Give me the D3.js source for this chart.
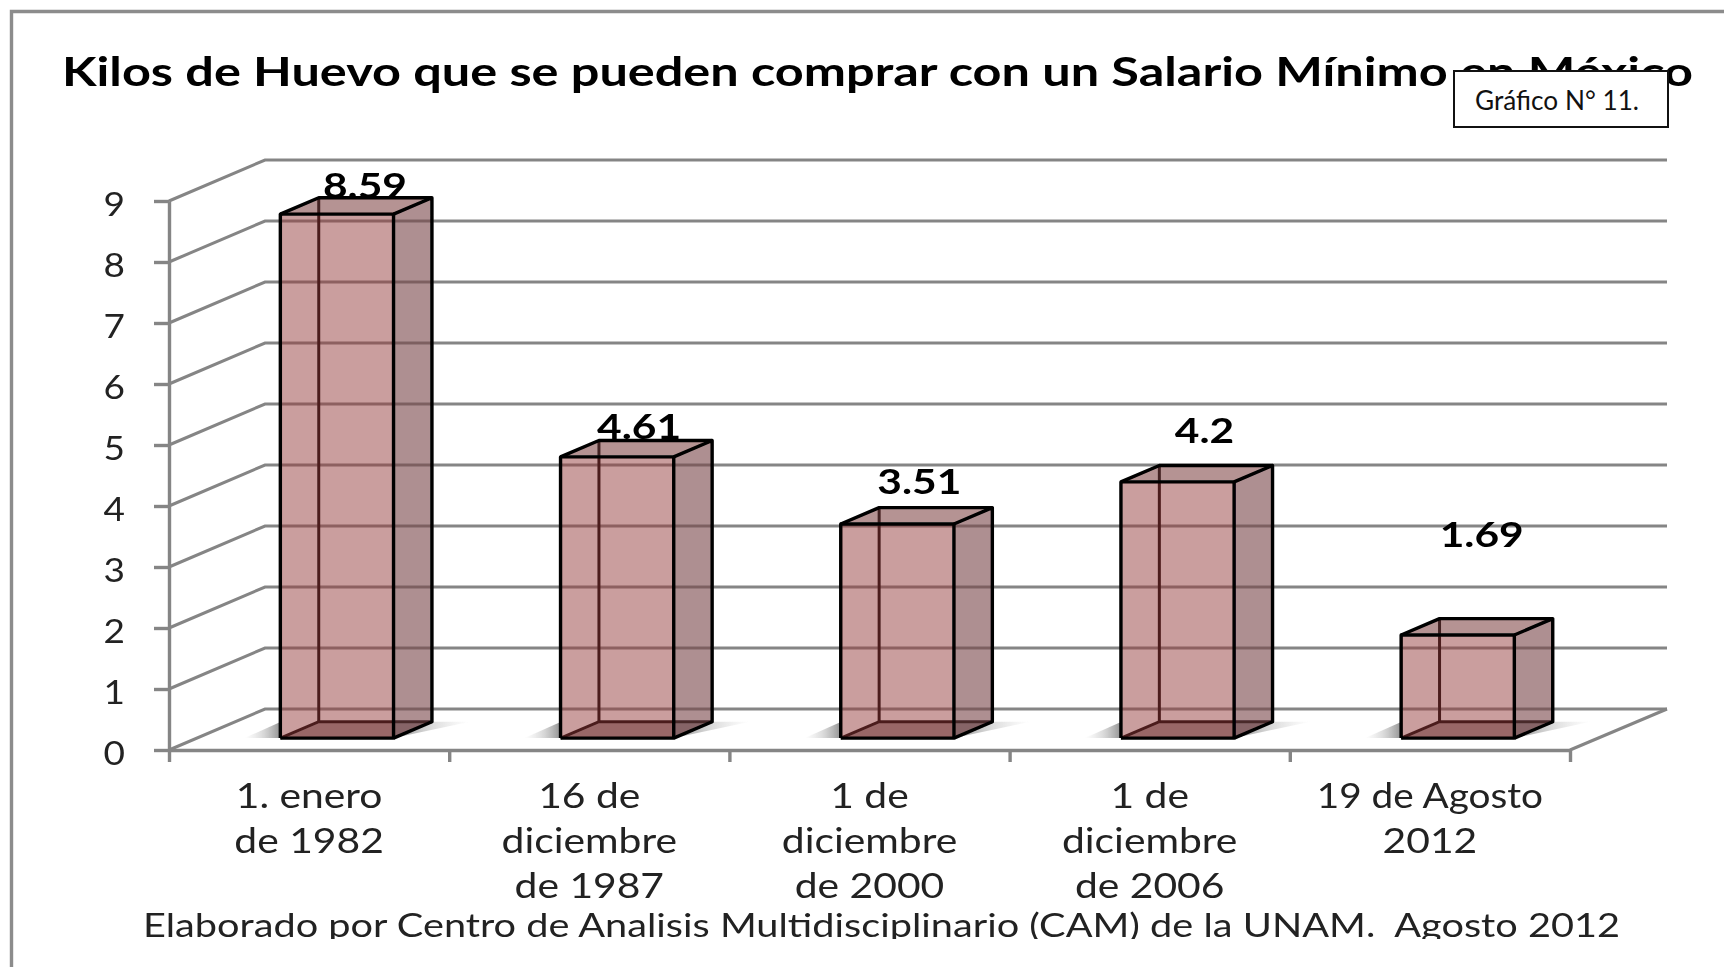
<!DOCTYPE html>
<html><head><meta charset="utf-8">
<script src="https://cdn.jsdelivr.net/npm/d3@7/dist/d3.min.js"></script>
<style>html,body{margin:0;padding:0;background:#fff;overflow:hidden}svg{display:block}</style>
</head><body><svg id="c" width="1724" height="967"></svg>
<script>
const titleText = "Kilos de Huevo que se pueden comprar con un Salario Mínimo en México";
const footerText = "Elaborado por Centro de Analisis Multidisciplinario (CAM) de la UNAM.  Agosto 2012";
const boxText = "Gráfico N° 11.";
const categories = ["1. enero de 1982","16 de diciembre de 1987","1 de diciembre de 2000","1 de diciembre de 2006","19 de Agosto 2012"];
const categoryLines = [["1. enero","de 1982"],["16 de","diciembre","de 1987"],["1 de","diciembre","de 2000"],["1 de","diciembre","de 2006"],["19 de Agosto","2012"]];
const values = [8.59,4.61,3.51,4.2,1.69];
const valueLabels = ["8.59","4.61","3.51","4.2","1.69"];
const yTicks = [0,1,2,3,4,5,6,7,8,9];

const FONT = "Lato, Carlito, 'Noto Sans', sans-serif";
const svg = d3.select("#c");
const defs = svg.append("defs");
const grad = (id, x1, x2) => { const g = defs.append("linearGradient").attr("id", id).attr("x1", x1).attr("x2", x2).attr("y1", 0).attr("y2", 0);
  g.append("stop").attr("offset", 0).attr("stop-color", "#777").attr("stop-opacity", .8);
  g.append("stop").attr("offset", .45).attr("stop-color", "#999").attr("stop-opacity", .4);
  g.append("stop").attr("offset", 1).attr("stop-color", "#bbb").attr("stop-opacity", 0); };
grad("shR", 0, 1); grad("shL", 1, 0);
defs.append("clipPath").attr("id", "footClip").append("rect").attr("x", 0).attr("y", 900).attr("width", 1724).attr("height", 39);
defs.append("filter").attr("id", "soft").attr("x", 0).attr("y", 0).attr("filterUnits", "userSpaceOnUse")
  .attr("width", 1724).attr("height", 967).append("feGaussianBlur").attr("stdDeviation", .7);

const root = svg.append("g").attr("filter", "url(#soft)");
const stretch = (sel, k) => sel.each(function(){ this.setAttribute("lengthAdjust","spacingAndGlyphs"); this.setAttribute("textLength", this.getComputedTextLength()*k); });

// scales
const y = d3.scaleLinear().domain([0,9]).range([750,201]);
const x = d3.scaleBand().domain(categories).range([169,1570]).paddingInner(.596).paddingOuter(.298);
const DX = 96, DY = 41;               // full floor depth
const T0 = .29, T1 = .69;             // bar position inside the depth
const px = (xv, t) => xv + DX * t;
const py = (v, t) => y(v) - DY * t;
const P = a => a.map(d => d.join(",")).join(" ");
const GRID = "#858585", EDGE = "#000";

// frame
root.append("path").attr("d", d3.line()([[11.5,967],[11.5,11.5],[1724,11.5]])).attr("fill","none").attr("stroke","#8c8c8c").attr("stroke-width",3.4);

// title
root.append("text").attr("x",62).attr("y",86).attr("font-family",FONT).attr("font-weight",700).attr("font-size",40).attr("fill","#000")
  .attr("textLength",1631).attr("lengthAdjust","spacingAndGlyphs").text(titleText);

// gridlines and side wall
root.append("g").selectAll("path").data(yTicks).join("path")
  .attr("d", d => d3.line()([[x.range()[0],y(d)],[px(x.range()[0],1),py(d,1)],[px(x.range()[1],1)+1,py(d,1)]]))
  .attr("fill","none").attr("stroke",GRID).attr("stroke-width",3);
root.append("path").attr("d", d3.line()([[x.range()[1],y(0)],[px(x.range()[1],1)+1,py(0,1)]])).attr("fill","none").attr("stroke",GRID).attr("stroke-width",3);

// axes
const ya = d3.axisLeft(y).tickValues(yTicks).tickSize(15).tickPadding(29).tickSizeOuter(0);
const yg = root.append("g").attr("transform",`translate(${x.range()[0]},0)`).call(ya);
yg.selectAll("line,path").attr("stroke",GRID).attr("stroke-width",3.4);
yg.selectAll("text").attr("font-family",FONT).attr("font-size",33).attr("fill","#222").attr("dy","0.44em").call(stretch,1.12);

const edges = d3.range(6);
const xEdge = d3.scaleLinear().domain([0,5]).range(x.range());
const xa = d3.axisBottom(xEdge).tickValues(edges).tickSize(12).tickSizeOuter(0).tickFormat("");
const xg = root.append("g").attr("transform",`translate(0,${y(0)})`).call(xa);
xg.selectAll("line,path").attr("stroke",GRID).attr("stroke-width",3.4);

// category labels
const lineY = [808,853,898];
const catG = root.append("g").selectAll("text").data(categoryLines.flatMap((ls,i)=>ls.map((s,j)=>({s,i,j})))).join("text")
  .attr("x", d => x(categories[d.i]) + x.bandwidth()/2)
  .attr("y", d => lineY[d.j]).attr("text-anchor","middle")
  .attr("font-family",FONT).attr("font-size",34).attr("fill","#222").text(d=>d.s);
catG.each(function(d){ this.setAttribute("lengthAdjust","spacingAndGlyphs"); this.setAttribute("textLength", this.getComputedTextLength()*(d.s.length>10?1.14:1.2)); });

// footer
root.append("g").attr("clip-path","url(#footClip)").append("text").attr("x",143).attr("y",937).attr("font-family",FONT).attr("font-size",33).attr("fill","#222")
  .style("white-space","pre").attr("textLength",1477).attr("lengthAdjust","spacingAndGlyphs").text(footerText);

// floor shadows
const bw = x.bandwidth();
root.append("g").selectAll("polygon.r").data(categories).join("polygon").attr("class","r").attr("fill","url(#shR)")
  .attr("points", c => { const xr = x(c)+bw; return P([[px(xr,T0),py(0,T0)],[px(xr,T1),py(0,T1)],[px(xr,T1)+38,py(0,T1)]]); });
root.append("g").selectAll("polygon.l").data(categories).join("polygon").attr("class","l").attr("fill","url(#shL)")
  .attr("points", c => { const xl = x(c); return P([[px(xl,T0),py(0,T0)],[px(xl,T0)-36,py(0,T0)],[px(xl,T0),py(0,T0)-16]]); });

// value labels
const labelNudge = [[28,16],[22,18],[22,30],[27,39],[24,88]];
root.append("g").selectAll("text").data(values).join("text")
  .attr("x",(d,i)=>px(x(categories[i]),T0)+bw/2+labelNudge[i][0])
  .attr("y",(d,i)=>py(d,T0)-labelNudge[i][1])
  .attr("text-anchor","middle").attr("font-family",FONT).attr("font-weight",700).attr("font-size",34).attr("fill","#000")
  .text((d,i)=>valueLabels[i]).call(stretch,1.25);

// bars
const bars = root.append("g").selectAll("g").data(values).join("g");
bars.each(function(v,i){
  const g = d3.select(this), xl = x(categories[i]), xr = xl + bw;
  const c = (xv,val,t) => [px(xv,t), py(val,t)];
  const a=c(xl,0,T0), b=c(xr,0,T0), e=c(xr,0,T1), f=c(xl,0,T1);
  const A=c(xl,v,T0), B=c(xr,v,T0), E=c(xr,v,T1), F=c(xl,v,T1);
  // bottom
  g.append("polygon").attr("points",P([a,b,e,f])).attr("fill","rgba(20,0,0,.42)");
  // hidden edges
  g.append("path").attr("d",d3.line()([a,f,e])).attr("fill","none").attr("stroke",EDGE).attr("stroke-width",3);
  g.append("path").attr("d",d3.line()([f,F])).attr("fill","none").attr("stroke",EDGE).attr("stroke-width",3);
  // faces
  g.append("polygon").attr("points",P([a,b,B,A])).attr("fill","rgba(150,60,60,.5)");
  g.append("polygon").attr("points",P([b,e,E,B])).attr("fill","rgba(120,70,73,.6)");
  g.append("polygon").attr("points",P([A,B,E,F])).attr("fill","rgba(120,60,60,.55)");
  // visible edges
  [[a,b,B,A,a],[b,e,E,B],[A,F,E]].forEach(l=>g.append("path").attr("d",d3.line()(l)).attr("fill","none").attr("stroke",EDGE).attr("stroke-width",3.4).attr("stroke-linejoin","round"));
});

// number box, crisp
svg.append("rect").attr("x",1454).attr("y",71).attr("width",214).attr("height",56).attr("fill","#fff").attr("stroke","#111").attr("stroke-width",2);
svg.append("text").attr("x",1475).attr("y",110).attr("font-family",FONT).attr("font-size",26).attr("fill","#111")
  .attr("textLength",164).attr("lengthAdjust","spacingAndGlyphs").text(boxText);
</script></body></html>
